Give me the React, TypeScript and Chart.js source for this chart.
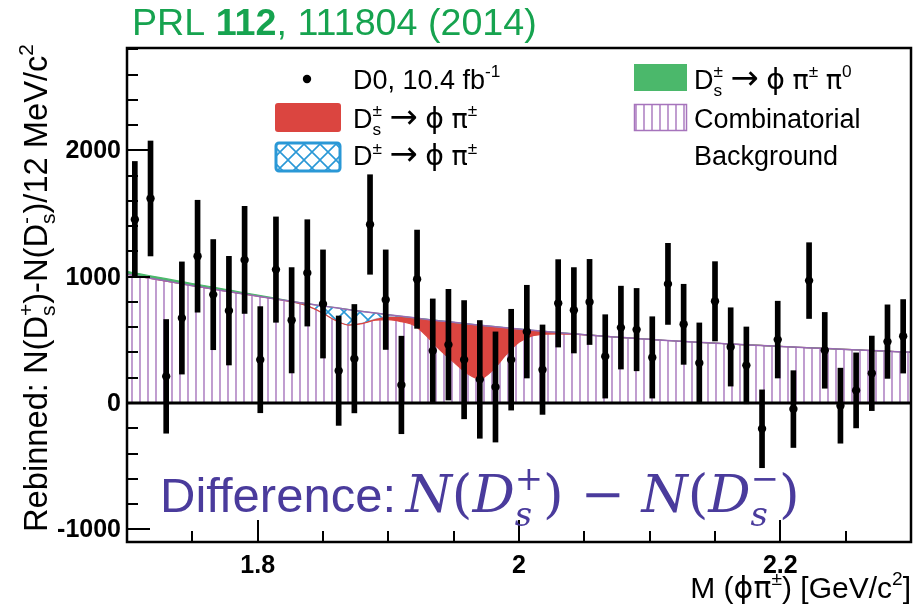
import React, { useEffect, useRef } from 'react';
import { Chart, registerables } from 'chart.js';

Chart.register(...registerables);

// ---------------- data ----------------
const binCenters = [
  1.706, 1.718, 1.730, 1.742, 1.754, 1.766, 1.778, 1.790, 1.802, 1.814,
  1.826, 1.838, 1.850, 1.862, 1.874, 1.886, 1.898, 1.910, 1.922, 1.934,
  1.946, 1.958, 1.970, 1.982, 1.994, 2.006, 2.018, 2.030, 2.042, 2.054,
  2.066, 2.078, 2.090, 2.102, 2.114, 2.126, 2.138, 2.150, 2.162, 2.174,
  2.186, 2.198, 2.210, 2.222, 2.234, 2.246, 2.258, 2.270, 2.282, 2.294,
];
const counts = [
  1452, 1619, 211, 673, 1162, 858, 731, 1133, 343, 1056,
  655, 1030, 784, 256, 351, 1413, 818, 143, 980, 414,
  462, 343, 187, 127, 343, 565, 264, 789, 734, 800,
  369, 597, 581, 361, 943, 623, 317, 805, 444, 298,
  -204, 502, -48, 969, 417, -21, 100, 235, 486, 528,
];
const errors = [
  460, 455, 450, 444, 443, 436, 430, 424, 420, 417,
  417, 421, 428, 433, 429, 394, 394, 386, 389, 410,
  438, 468, 466, 436, 399, 367, 354, 346, 338, 337,
  330, 328, 326, 322, 321, 317, 317, 314, 310, 304,
  308, 304, 304, 300, 300, 297, 297, 295, 291, 291,
];

const curveX = [
  1.70, 1.71, 1.72, 1.73, 1.74, 1.75, 1.76, 1.77, 1.78, 1.79,
  1.80, 1.81, 1.82, 1.83, 1.84, 1.85, 1.86, 1.87, 1.88, 1.89,
  1.90, 1.91, 1.92, 1.93, 1.94, 1.95, 1.96, 1.97, 1.98, 1.99,
  2.00, 2.01, 2.02, 2.03, 2.04, 2.05, 2.06, 2.07, 2.08, 2.09,
  2.10, 2.11, 2.12, 2.13, 2.14, 2.15, 2.16, 2.17, 2.18, 2.19,
  2.20, 2.21, 2.22, 2.23, 2.24, 2.25, 2.26, 2.27, 2.28, 2.29,
  2.30,
];
// combinatorial background
const bkgCurve = [
  1020, 1001, 983, 965, 947, 929, 912, 895, 878, 862,
  846, 830, 814, 798, 783, 768, 754, 739, 725, 712,
  699, 686, 674, 662, 650, 639, 627, 616, 606, 596,
  586, 576, 567, 558, 549, 541, 533, 525, 518, 511,
  504, 497, 491, 485, 479, 474, 468, 463, 458, 453,
  448, 443, 438, 434, 429, 424, 420, 415, 411, 406,
  402,
];
// Ds -> phi pi pi0 contribution
const dsPi0Curve = [
  22, 21, 20, 19, 18, 17, 16, 15, 13, 11,
  9, 6, 3, 1, 0, 0, 0, 0, 0, 0,
  0, 0, 0, 0, 0, 0, 0, 0, 0, 0,
  0, 0, 0, 0, 0, 0, 0, 0, 0, 0,
  0, 0, 0, 0, 0, 0, 0, 0, 0, 0,
  0, 0, 0, 0, 0, 0, 0, 0, 0, 0,
  0,
];
// D+- -> phi pi contribution
const dPlusCurve = [
  0, 0, 0, 0, 0, 0, 0, 0, 0, 0,
  0, 0, -1, -6, -22, -58, -102, -120, -92, -47,
  -16, -4, -1, 0, 0, 0, 0, 0, 0, 0,
  0, 0, 0, 0, 0, 0, 0, 0, 0, 0,
  0, 0, 0, 0, 0, 0, 0, 0, 0, 0,
  0, 0, 0, 0, 0, 0, 0, 0, 0, 0,
  0,
];
// Ds+- -> phi pi contribution
const dsCurve = [
  0, 0, 0, 0, 0, 0, 0, 0, 0, 0,
  0, 0, 0, 0, 0, 0, 0, -2, -5, -10,
  -23, -38, -60, -140, -235, -315, -390, -425, -345, -215,
  -105, -45, -22, -10, -4, -1, 0, 0, 0, 0,
  0, 0, 0, 0, 0, 0, 0, 0, 0, 0,
  0, 0, 0, 0, 0, 0, 0, 0, 0, 0,
  0,
];

const yMajorTicks = [-1000, 0, 1000, 2000];
const yTickLabels = ['-1000', '0', '1000', '2000'];
const yMinorTicks = [
  -1000, -800, -600, -400, -200, 0, 200, 400, 600, 800, 1000, 1200, 1400,
  1600, 1800, 2000, 2200, 2400, 2600, 2800,
];
const xAllTicks = [
  1.75, 1.8, 1.85, 1.9, 1.95, 2.0, 2.05, 2.1, 2.15, 2.2, 2.25,
];
const xMajorTicks = [1.8, 2.0, 2.2];
const xTickLabels = ['1.8', '2', '2.2'];

// ---------------- styling ----------------
const SANS = '"Liberation Sans", Arial, Helvetica, sans-serif';
const SYM = '"DejaVu Sans", "Liberation Sans", sans-serif';
const MATH = '"DejaVu Serif", "Liberation Serif", serif';
const RED = '#db4540';
const GREEN = '#4bb86b';
const BLUE = '#2a98d6';
const PURPLE = '#a674bc';
const PURPLE_LINE = '#9a68b4';
const TITLE_GREEN = '#16a34f';
const ANNOT = '#4a3b9c';

type Seg = { t: string; m?: 'n' | 'u' | 'd' | 'ud'; f?: string; s?: string; z?: number; dy?: number };

function rich(
  ctx: CanvasRenderingContext2D,
  x: number,
  y: number,
  size: number,
  segs: Seg[],
  fam: string,
  sty: string,
  draw: boolean
): number {
  let cx = x;
  for (const sg of segs) {
    const f = sg.f ?? fam;
    const st = sg.s ?? sty;
    const m = sg.m ?? 'n';
    const sz = size * (sg.z ?? 1);
    const dy = sg.dy ?? 0;
    if (m === 'n') {
      ctx.font = `${st} ${sz}px ${f}`;
      if (draw) ctx.fillText(sg.t, cx, y + dy);
      cx += ctx.measureText(sg.t).width;
    } else if (m === 'u') {
      const ss = size * 0.64;
      ctx.font = `${st} ${ss}px ${f}`;
      if (draw) ctx.fillText(sg.t, cx, y - size * 0.42);
      cx += ctx.measureText(sg.t).width;
    } else if (m === 'd') {
      const ss = size * 0.64;
      ctx.font = `${st} ${ss}px ${f}`;
      if (draw) ctx.fillText(sg.t, cx, y + size * 0.24);
      cx += ctx.measureText(sg.t).width;
    } else {
      const [a, b] = sg.t.split('|');
      const ss = size * 0.64;
      ctx.font = `${st} ${ss}px ${f}`;
      if (draw) {
        ctx.fillText(a, cx, y + size * 0.26);
        ctx.fillText(b, cx, y - size * 0.42);
      }
      cx += Math.max(ctx.measureText(a).width, ctx.measureText(b).width);
    }
  }
  return cx - x;
}

function makeVHatch(): CanvasPattern | string {
  const c = document.createElement('canvas');
  c.width = 8;
  c.height = 8;
  const g = c.getContext('2d');
  if (!g) return PURPLE;
  g.strokeStyle = PURPLE;
  g.lineWidth = 1.4;
  g.beginPath();
  g.moveTo(4, 0);
  g.lineTo(4, 8);
  g.stroke();
  return g.createPattern(c, 'repeat') as CanvasPattern;
}

function makeCrossHatch(): CanvasPattern | string {
  const c = document.createElement('canvas');
  c.width = 16;
  c.height = 16;
  const g = c.getContext('2d');
  if (!g) return BLUE;
  g.strokeStyle = BLUE;
  g.lineWidth = 1.6;
  g.beginPath();
  g.moveTo(0, 0);
  g.lineTo(16, 16);
  g.moveTo(16, 0);
  g.lineTo(0, 16);
  g.stroke();
  return g.createPattern(c, 'repeat') as CanvasPattern;
}

const ARROW: Seg[] = [{ t: ' ' }, { t: '→', f: SYM, z: 1.25 }, { t: ' ' }, { t: 'ϕ', f: SYM, z: 1.05 }, { t: ' ' }, { t: 'π', f: SYM }];

export default function App() {
  const ref = useRef<HTMLCanvasElement | null>(null);

  useEffect(() => {
    document.body.style.margin = '0';
    const canvas = ref.current;
    if (!canvas) return;

    const vHatch = makeVHatch();
    const xHatch = makeCrossHatch();

    const bkgPts = curveX.map((x, i) => ({ x, y: bkgCurve[i] }));
    const greenPts = curveX.map((x, i) => ({ x, y: bkgCurve[i] + dsPi0Curve[i] }));
    const bkgDPts = curveX.map((x, i) => ({ x, y: bkgCurve[i] + dPlusCurve[i] }));
    const totalPts = curveX.map((x, i) => ({
      x,
      y: bkgCurve[i] + dPlusCurve[i] + dsCurve[i],
    }));
    const dataPts = binCenters.map((x, i) => ({ x, y: counts[i] }));
    const errPts = binCenters.map((x, i) => ({
      x,
      y: [counts[i] - errors[i], counts[i] + errors[i]],
    }));

    const lineBase = {
      type: 'line' as const,
      pointRadius: 0,
      cubicInterpolationMode: 'monotone' as const,
    };

    const decor = {
      id: 'decor',
      beforeDraw(chart: any) {
        const { ctx, width, height } = chart;
        ctx.save();
        ctx.fillStyle = '#fff';
        ctx.fillRect(0, 0, width, height);
        ctx.restore();
      },
      afterDatasetsDraw(chart: any) {
        const { ctx, chartArea: a, scales } = chart;
        const y0 = scales.y.getPixelForValue(0);
        ctx.save();
        ctx.strokeStyle = '#000';
        ctx.lineWidth = 3;
        ctx.beginPath();
        ctx.moveTo(a.left, y0);
        ctx.lineTo(a.right, y0);
        ctx.stroke();
        ctx.restore();
      },
      afterDraw(chart: any) {
        const { ctx, chartArea: a, scales } = chart;
        const xs = scales.x;
        const ys = scales.y;
        ctx.save();
        ctx.fillStyle = '#000';
        ctx.strokeStyle = '#000';

        // ticks
        ctx.lineWidth = 2;
        ctx.beginPath();
        for (const v of yMinorTicks) {
          const py = Math.round(ys.getPixelForValue(v));
          const len = yMajorTicks.includes(v) ? 23 : 11;
          ctx.moveTo(a.left, py);
          ctx.lineTo(a.left + len, py);
        }
        for (const v of xAllTicks) {
          const px = Math.round(xs.getPixelForValue(v));
          const len = xMajorTicks.some((m) => Math.abs(m - v) < 1e-6) ? 22 : 11;
          ctx.moveTo(px, a.bottom);
          ctx.lineTo(px, a.bottom - len);
        }
        ctx.stroke();

        // frame
        ctx.lineWidth = 2.5;
        ctx.strokeRect(a.left, a.top, a.right - a.left, a.bottom - a.top);

        // y tick labels
        ctx.font = `bold 25px ${SANS}`;
        ctx.textAlign = 'right';
        ctx.textBaseline = 'middle';
        yMajorTicks.forEach((v, i) => {
          ctx.fillText(yTickLabels[i], a.left - 6, ys.getPixelForValue(v) + 1);
        });
        // x tick labels
        ctx.textAlign = 'center';
        xMajorTicks.forEach((v, i) => {
          ctx.fillText(xTickLabels[i], xs.getPixelForValue(v), a.bottom + 24);
        });

        ctx.textAlign = 'left';
        ctx.textBaseline = 'alphabetic';

        // x title
        const xt: Seg[] = [
          { t: 'M (' },
          { t: 'ϕ', f: SYM },
          { t: 'π', f: SYM },
          { t: '±', m: 'u' },
          { t: ') [GeV/c' },
          { t: '2', m: 'u' },
          { t: ']' },
        ];
        const xw = rich(ctx, 0, 0, 30, xt, SANS, '', false);
        rich(ctx, a.right - xw, 598, 30, xt, SANS, '', true);

        // y title
        const yt: Seg[] = [
          { t: 'Rebinned: N(D' },
          { t: 's|+', m: 'ud' },
          { t: ')-N(D' },
          { t: 's|-', m: 'ud' },
          { t: ')/12 MeV/c' },
          { t: '2', m: 'u' },
        ];
        const ywNat = rich(ctx, 0, 0, 30, yt, SANS, '', false);
        const ySize = 30 * Math.min(1.1, 488 / ywNat);
        ctx.save();
        ctx.translate(47, 532);
        ctx.rotate(-Math.PI / 2);
        rich(ctx, 0, 0, ySize, yt, SANS, '', true);
        ctx.restore();

        // title
        ctx.fillStyle = TITLE_GREEN;
        const tt: Seg[] = [{ t: 'PRL ' }, { t: '112', s: 'bold' }, { t: ', 111804 (2014)' }];
        const tw = rich(ctx, 0, 0, 34, tt, SANS, '', false);
        rich(ctx, 132, 35, 34 * Math.min(1.15, 405 / tw), tt, SANS, '', true);

        // legend
        ctx.fillStyle = '#000';
        ctx.beginPath();
        ctx.arc(307, 79, 4.2, 0, Math.PI * 2);
        ctx.fill();
        const LS = 27;
        rich(ctx, 353, 88.5, LS, [{ t: 'D0, 10.4 fb' }, { t: '-1', m: 'u' }], SANS, '', true);

        ctx.fillStyle = RED;
        ctx.beginPath();
        ctx.roundRect(275, 103, 66, 29, 3);
        ctx.fill();
        ctx.fillStyle = '#000';
        rich(
          ctx,
          353,
          127.5,
          LS,
          [{ t: 'D' }, { t: 's|±', m: 'ud' }, ...ARROW, { t: '±', m: 'u' }],
          SANS,
          '',
          true
        );

        ctx.fillStyle = '#fff';
        ctx.fillRect(276, 143, 64, 28);
        ctx.fillStyle = xHatch;
        ctx.fillRect(276, 143, 64, 28);
        ctx.strokeStyle = BLUE;
        ctx.lineWidth = 3;
        ctx.beginPath();
        ctx.roundRect(276, 143, 64, 28, 3);
        ctx.stroke();
        ctx.fillStyle = '#000';
        rich(
          ctx,
          353,
          165,
          LS,
          [{ t: 'D' }, { t: '±', m: 'u' }, ...ARROW, { t: '±', m: 'u' }],
          SANS,
          '',
          true
        );

        ctx.fillStyle = GREEN;
        ctx.fillRect(634, 64, 53, 27);
        ctx.fillStyle = '#000';
        rich(
          ctx,
          694,
          88.5,
          LS,
          [
            { t: 'D' },
            { t: 's|±', m: 'ud' },
            ...ARROW,
            { t: '±', m: 'u' },
            { t: ' ' },
            { t: 'π', f: SYM },
            { t: '0', m: 'u' },
          ],
          SANS,
          '',
          true
        );

        ctx.fillStyle = vHatch;
        ctx.fillRect(634, 104, 53, 27);
        ctx.strokeStyle = PURPLE;
        ctx.lineWidth = 1.5;
        ctx.strokeRect(634.5, 104.5, 52, 26);
        ctx.fillStyle = '#000';
        ctx.font = `${LS}px ${SANS}`;
        ctx.fillText('Combinatorial', 694, 127.5);
        ctx.fillText('Background', 694, 165);

        // annotation
        ctx.fillStyle = ANNOT;
        const w1 = rich(ctx, 160, 512, 49, [{ t: 'Difference: ' }], SANS, '', true);
        const mathSegs: Seg[] = [
          { t: 'N', s: 'italic' },
          { t: '(' },
          { t: 'D', s: 'italic' },
          { t: 's|+', m: 'ud', s: 'italic' },
          { t: ')' },
          { t: ' − ' },
          { t: 'N', s: 'italic' },
          { t: '(' },
          { t: 'D', s: 'italic' },
          { t: 's|−', m: 'ud', s: 'italic' },
          { t: ')' },
        ];
        const mw = rich(ctx, 0, 0, 44, mathSegs, MATH, '', false);
        const mSize = 44 * Math.max(0.9, Math.min(1.2, 405 / mw));
        rich(ctx, 160 + w1 - 4, 512, mSize, mathSegs, MATH, '', true);
        ctx.restore();
      },
    };

    const chart = new Chart(canvas, {
      type: 'scatter',
      data: {
        datasets: [
          {
            type: 'scatter',
            label: 'D0, 10.4 fb-1',
            data: dataPts,
            pointRadius: 4.2,
            pointBackgroundColor: '#000',
            pointBorderWidth: 0,
            showLine: false,
            order: 0,
          } as any,
          {
            type: 'bar',
            label: 'errors',
            data: errPts,
            backgroundColor: '#000',
            borderWidth: 0,
            barThickness: 5,
            grouped: false,
            order: 1,
          } as any,
          {
            ...lineBase,
            label: 'Combinatorial Background',
            data: bkgPts,
            borderColor: PURPLE_LINE,
            borderWidth: 1.5,
            fill: false,
            order: 2,
          } as any,
          {
            ...lineBase,
            label: 'Ds -> phi pi pi0',
            data: greenPts,
            borderColor: GREEN,
            borderWidth: 1.2,
            backgroundColor: GREEN,
            fill: 2,
            order: 3,
          } as any,
          {
            ...lineBase,
            label: 'D -> phi pi',
            data: bkgDPts,
            borderColor: 'rgba(42,152,214,0.6)',
            borderWidth: 0.8,
            backgroundColor: xHatch,
            fill: 2,
            order: 5,
          } as any,
          {
            ...lineBase,
            label: 'Ds -> phi pi',
            data: totalPts,
            borderColor: RED,
            borderWidth: 1.2,
            backgroundColor: RED,
            fill: 4,
            order: 4,
          } as any,
          {
            ...lineBase,
            label: 'background hatch',
            data: totalPts,
            borderWidth: 0,
            borderColor: 'rgba(0,0,0,0)',
            backgroundColor: vHatch,
            fill: 'origin',
            order: 6,
          } as any,
        ],
      },
      options: {
        animation: false,
        responsive: false,
        devicePixelRatio: 1,
        events: [],
        layout: { padding: { left: 127, top: 48, right: 13, bottom: 64 } },
        scales: {
          x: { type: 'linear', min: 1.7, max: 2.3, display: false, offset: false },
          y: { type: 'linear', min: -1100, max: 2810, display: false },
        },
        plugins: {
          legend: { display: false },
          tooltip: { enabled: false },
        },
      },
      plugins: [decor],
    } as any);

    return () => chart.destroy();
  }, []);

  return (
    <div style={{ width: 924, height: 606, position: 'relative' }}>
      <canvas ref={ref} width={924} height={606} style={{ display: 'block' }} />
    </div>
  );
}
